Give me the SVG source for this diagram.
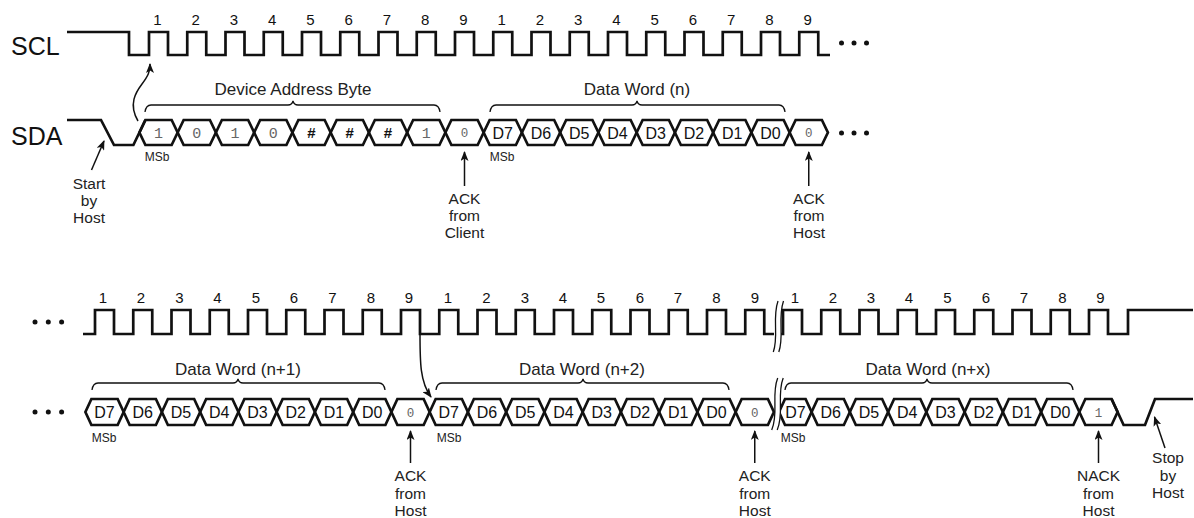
<svg xmlns="http://www.w3.org/2000/svg" xmlns:xlink="http://www.w3.org/1999/xlink" width="1194" height="518" viewBox="0 0 1194 518">
<style>
.sig{fill:none;stroke:#111;stroke-width:2.7;stroke-linejoin:miter}
.brace{fill:none;stroke:#111;stroke-width:1.3}
.arr{fill:none;stroke:#111;stroke-width:1.5;marker-end:url(#ah)}
.brk{fill:none;stroke:#111;stroke-width:1.3}
.gap{fill:#fff;stroke:none}
.dot{fill:#111}
text{font-family:"Liberation Sans",Arial,sans-serif;fill:#111;text-anchor:middle}
.num{font-size:15px}
.lbl{font-size:25px;text-anchor:start}
.d{font-size:16px}
.bit{font-family:"Liberation Mono","Courier New",monospace;font-size:15px;fill:#666}
.ack{font-family:"Liberation Mono","Courier New",monospace;font-size:12.5px;fill:#666}
.hash{font-size:15px;font-weight:bold}
.msb{font-size:12px;fill:#222}
.title{font-size:17px;fill:#222}
.note{font-size:15.5px;fill:#222}
</style>
<defs>
<marker id="ah" viewBox="0 0 10 8" refX="9" refY="4" markerWidth="10" markerHeight="8" markerUnits="userSpaceOnUse" orient="auto"><path d="M0,0 L10,4 L0,8 L2.5,4 Z" fill="#111"/></marker>
<path id="hx" class="sig" d="M0,12.5 L6,0 H32.25 L38.25,12.5 L32.25,25 H6 Z"/>
<path id="hb" class="sig" d="M0,13 L6,0 H32.25 L38.25,13 L32.25,26 H6 Z"/>
</defs>

<g id="labels">
<text class="lbl" x="11" y="55">SCL</text>
<text class="lbl" x="11" y="145">SDA</text>
</g>

<g id="scl-top">
<path class="sig" d="M67,32H129V55H149v-23h19v23h19.25v-23h19v23h19.25v-23h19v23h19.25v-23h19v23h19.25v-23h19v23h19.25v-23h19v23h19.25v-23h19v23h19.25v-23h19v23h19.25v-23h19v23h19.25v-23h19v23h19.25v-23h19v23h19.25v-23h19v23h19.25v-23h19v23h19.25v-23h19v23h19.25v-23h19v23h19.25v-23h19v23h19.25v-23h19v23h19.25v-23h19v23H830"/>
<circle class="dot" cx="841.5" cy="43" r="2.5"/><circle class="dot" cx="854" cy="43" r="2.5"/><circle class="dot" cx="866.5" cy="43" r="2.5"/>
<g class="num">
<text x="157.5" y="25">1</text><text x="195.75" y="25">2</text><text x="234" y="25">3</text><text x="272.25" y="25">4</text><text x="310.5" y="25">5</text><text x="348.75" y="25">6</text><text x="387" y="25">7</text><text x="425.25" y="25">8</text><text x="463.5" y="25">9</text>
<text x="501.75" y="25">1</text><text x="540" y="25">2</text><text x="578.25" y="25">3</text><text x="616.5" y="25">4</text><text x="654.75" y="25">5</text><text x="693" y="25">6</text><text x="731.25" y="25">7</text><text x="769.5" y="25">8</text><text x="807.75" y="25">9</text>
</g>
</g>

<g id="sda-top">
<path class="sig" d="M67,120H101L114,145H133.4L145.4,120"/>
<use xlink:href="#hx" x="139.4" y="120"/><use xlink:href="#hx" x="177.65" y="120"/><use xlink:href="#hx" x="215.9" y="120"/><use xlink:href="#hx" x="254.15" y="120"/><use xlink:href="#hx" x="292.4" y="120"/><use xlink:href="#hx" x="330.65" y="120"/><use xlink:href="#hx" x="368.9" y="120"/><use xlink:href="#hx" x="407.15" y="120"/><use xlink:href="#hx" x="445.4" y="120"/>
<use xlink:href="#hx" x="483.65" y="120"/><use xlink:href="#hx" x="521.9" y="120"/><use xlink:href="#hx" x="560.15" y="120"/><use xlink:href="#hx" x="598.4" y="120"/><use xlink:href="#hx" x="636.65" y="120"/><use xlink:href="#hx" x="674.9" y="120"/><use xlink:href="#hx" x="713.15" y="120"/><use xlink:href="#hx" x="751.4" y="120"/><use xlink:href="#hx" x="789.65" y="120"/>
<circle class="dot" cx="841.5" cy="133" r="2.5"/><circle class="dot" cx="854" cy="133" r="2.5"/><circle class="dot" cx="866.5" cy="133" r="2.5"/>
<text class="bit" x="158.5" y="138">1</text><text class="bit" x="196.75" y="138">0</text><text class="bit" x="235" y="138">1</text><text class="bit" x="273.25" y="138">0</text>
<text class="hash" x="311.5" y="138">#</text><text class="hash" x="349.75" y="138">#</text><text class="hash" x="388" y="138">#</text>
<text class="bit" x="426.25" y="138">1</text><text class="ack" x="464.5" y="137">0</text>
<text class="d" x="502.75" y="138.5">D7</text><text class="d" x="541" y="138.5">D6</text><text class="d" x="579.25" y="138.5">D5</text><text class="d" x="617.5" y="138.5">D4</text><text class="d" x="655.75" y="138.5">D3</text><text class="d" x="694" y="138.5">D2</text><text class="d" x="732.25" y="138.5">D1</text><text class="d" x="770.5" y="138.5">D0</text>
<text class="ack" x="808.75" y="137">0</text>
<text class="msb" x="157" y="160.5">MSb</text><text class="msb" x="502" y="160.5">MSb</text>
</g>

<g id="brace-device-address">
<path class="brace" d="M145,112 Q146,105 151,105 H288 Q292,105 293,101 Q294,105 298,105 H434 Q439,105 440,112"/>
<text class="title" x="293" y="95">Device Address Byte</text>
</g>
<g id="brace-data-n">
<path class="brace" d="M490,112 Q491,105 496,105 H632 Q636,105 637,101 Q638,105 642,105 H779 Q784,105 785,112"/>
<text class="title" x="637" y="95">Data Word (n)</text>
</g>

<g id="scl-bottom">
<circle class="dot" cx="35" cy="322" r="2.5"/><circle class="dot" cx="48.3" cy="322" r="2.5"/><circle class="dot" cx="61.6" cy="322" r="2.5"/>
<path class="sig" d="M83,334H95v-24h19v24h19.25v-24h19v24h19.25v-24h19v24h19.25v-24h19v24h19.25v-24h19v24h19.25v-24h19v24h19.25v-24h19v24h19.25v-24h19v24h19.25v-24h19v24h19.25v-24h19v24h19.25v-24h19v24h19.25v-24h19v24h19.25v-24h19v24h19.25v-24h19v24h19.25v-24h19v24h19.25v-24h19v24h19.25v-24h19v24h19.25v-24h19v24H774"/>
<path class="sig" d="M779,334H783v-24h19v24h19.25v-24h19v24h19.25v-24h19v24h19.25v-24h19v24h19.25v-24h19v24h19.25v-24h19v24h19.25v-24h19v24h19.25v-24h19v24h19.25v-24h19v24H1128V310H1193"/>
<g class="num">
<text x="103" y="303">1</text><text x="141" y="303">2</text><text x="179.5" y="303">3</text><text x="217.5" y="303">4</text><text x="256" y="303">5</text><text x="294" y="303">6</text><text x="332.5" y="303">7</text><text x="371" y="303">8</text><text x="409" y="303">9</text>
<text x="448" y="303">1</text><text x="486.5" y="303">2</text><text x="525" y="303">3</text><text x="563" y="303">4</text><text x="601" y="303">5</text><text x="640" y="303">6</text><text x="678" y="303">7</text><text x="716.5" y="303">8</text><text x="755" y="303">9</text>
<text x="795" y="303">1</text><text x="833" y="303">2</text><text x="871" y="303">3</text><text x="909" y="303">4</text><text x="947.5" y="303">5</text><text x="986" y="303">6</text><text x="1024" y="303">7</text><text x="1062.5" y="303">8</text><text x="1100.5" y="303">9</text>
</g>
</g>

<g id="sda-bottom">
<circle class="dot" cx="35" cy="412" r="2.5"/><circle class="dot" cx="48.3" cy="412" r="2.5"/><circle class="dot" cx="61.6" cy="412" r="2.5"/>
<use xlink:href="#hb" x="85.4" y="399"/><use xlink:href="#hb" x="123.65" y="399"/><use xlink:href="#hb" x="161.9" y="399"/><use xlink:href="#hb" x="200.15" y="399"/><use xlink:href="#hb" x="238.4" y="399"/><use xlink:href="#hb" x="276.65" y="399"/><use xlink:href="#hb" x="314.9" y="399"/><use xlink:href="#hb" x="353.15" y="399"/><use xlink:href="#hb" x="391.4" y="399"/>
<use xlink:href="#hb" x="429.65" y="399"/><use xlink:href="#hb" x="467.9" y="399"/><use xlink:href="#hb" x="506.15" y="399"/><use xlink:href="#hb" x="544.4" y="399"/><use xlink:href="#hb" x="582.65" y="399"/><use xlink:href="#hb" x="620.9" y="399"/><use xlink:href="#hb" x="659.15" y="399"/><use xlink:href="#hb" x="697.4" y="399"/><use xlink:href="#hb" x="735.65" y="399"/>
<path class="sig" d="M779,412 L785,399 H805.6 L811.6,412 L805.6,425 H785 Z"/>
<use xlink:href="#hb" x="811.6" y="399"/><use xlink:href="#hb" x="849.85" y="399"/><use xlink:href="#hb" x="888.1" y="399"/><use xlink:href="#hb" x="926.35" y="399"/><use xlink:href="#hb" x="964.6" y="399"/><use xlink:href="#hb" x="1002.85" y="399"/><use xlink:href="#hb" x="1041.1" y="399"/><use xlink:href="#hb" x="1079.35" y="399"/>
<path class="sig" d="M1111.6,399 L1123.6,425 H1145 L1155,399 H1193"/>
<text class="d" x="104.5" y="418">D7</text><text class="d" x="142.75" y="418">D6</text><text class="d" x="181" y="418">D5</text><text class="d" x="219.25" y="418">D4</text><text class="d" x="257.5" y="418">D3</text><text class="d" x="295.75" y="418">D2</text><text class="d" x="334" y="418">D1</text><text class="d" x="372.25" y="418">D0</text>
<text class="ack" x="410.5" y="416.5">0</text>
<text class="d" x="448.75" y="418">D7</text><text class="d" x="487" y="418">D6</text><text class="d" x="525.25" y="418">D5</text><text class="d" x="563.5" y="418">D4</text><text class="d" x="601.75" y="418">D3</text><text class="d" x="640" y="418">D2</text><text class="d" x="678.25" y="418">D1</text><text class="d" x="716.5" y="418">D0</text>
<text class="ack" x="754.75" y="416.5">0</text>
<text class="d" x="795.5" y="418">D7</text><text class="d" x="830.75" y="418">D6</text><text class="d" x="869" y="418">D5</text><text class="d" x="907.25" y="418">D4</text><text class="d" x="945.5" y="418">D3</text><text class="d" x="983.75" y="418">D2</text><text class="d" x="1022" y="418">D1</text><text class="d" x="1060.25" y="418">D0</text>
<text class="ack" x="1098.5" y="416.5">1</text>
<text class="msb" x="104" y="442">MSb</text><text class="msb" x="449" y="442">MSb</text><text class="msb" x="793" y="442">MSb</text>
</g>

<g id="break-marks">
<path class="gap" d="M778,301 C772,318 779,336 773.3,352 L778.8,352 C784.5,336 777.5,318 783.5,301 Z"/>
<path class="brk" d="M778,301 C772,318 779,336 773.3,352"/>
<path class="brk" d="M783.5,301 C777.5,318 784.5,336 778.8,352"/>
<path class="gap" d="M777.7,378 C771,395 779,413 771.7,430 L777.2,430 C784.5,413 776.5,395 783.2,378 Z"/>
<path class="brk" d="M777.7,378 C771,395 779,413 771.7,430"/>
<path class="brk" d="M783.2,378 C776.5,395 784.5,413 777.2,430"/>
</g>

<g id="brace-data-n1">
<path class="brace" d="M92,390 Q93,383 98,383 H233 Q237,383 238,379 Q239,383 243,383 H379 Q384,383 385,390"/>
<text class="title" x="238" y="375">Data Word (n+1)</text>
</g>
<g id="brace-data-n2">
<path class="brace" d="M436,390 Q437,383 442,383 H578 Q582,383 583,379 Q584,383 588,383 H723 Q728,383 729,390"/>
<text class="title" x="582" y="375">Data Word (n+2)</text>
</g>
<g id="brace-data-nx">
<path class="brace" d="M785,390 Q786,383 791,383 H922 Q926,383 927,379 Q928,383 932,383 H1067 Q1072,383 1073,390"/>
<text class="title" x="928" y="375">Data Word (n+x)</text>
</g>

<g id="connectors">
<path class="arr" d="M138,121 C128,104 136,92 142,84 C148,76 150,72 150,64"/>
<path class="arr" d="M91.5,170 L104,141"/>
<path class="arr" d="M464.5,186 V152"/>
<path class="arr" d="M808.75,186 V152"/>
<path class="arr" d="M420,334 C420,362 420,382 431,397"/>
<path class="arr" d="M410.5,463 V431"/>
<path class="arr" d="M754.75,463 V431"/>
<path class="arr" d="M1098.5,463 V431"/>
<path class="arr" d="M1165,448 L1154.5,417"/>
</g>

<g id="notes">
<text class="note" x="89" y="189">Start</text><text class="note" x="89" y="206">by</text><text class="note" x="89" y="223">Host</text>
<text class="note" x="464.5" y="204">ACK</text><text class="note" x="464.5" y="221">from</text><text class="note" x="464.5" y="238">Client</text>
<text class="note" x="809" y="204">ACK</text><text class="note" x="809" y="221">from</text><text class="note" x="809" y="238">Host</text>
<text class="note" x="410.5" y="481">ACK</text><text class="note" x="410.5" y="498.5">from</text><text class="note" x="410.5" y="516">Host</text>
<text class="note" x="754.75" y="481">ACK</text><text class="note" x="754.75" y="498.5">from</text><text class="note" x="754.75" y="516">Host</text>
<text class="note" x="1098.5" y="481">NACK</text><text class="note" x="1098.5" y="498.5">from</text><text class="note" x="1098.5" y="516">Host</text>
<text class="note" x="1168" y="463">Stop</text><text class="note" x="1168" y="480.5">by</text><text class="note" x="1168" y="498">Host</text>
</g>
</svg>
